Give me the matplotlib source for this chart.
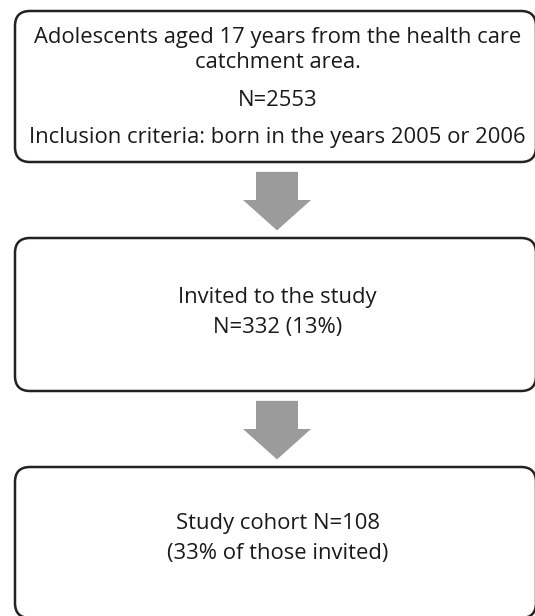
import matplotlib

matplotlib.use("Agg")
import matplotlib.pyplot as plt
from matplotlib.patches import FancyBboxPatch, Polygon

# box contents, top to bottom
BOX_TEXTS = [
    ["Adolescents aged 17 years from the health care", "catchment area.",
     "N=2553", "Inclusion criteria: born in the years 2005 or 2006"],
    ["Invited to the study", "N=332 (13%)"],
    ["Study cohort N=108", "(33% of those invited)"],
]
# line y-positions (pixels from top) for each box's text
LINE_Y = [
    [37, 62, 101, 137],
    [297, 328],
    [523, 553],
]
# box extents (top, bottom) in pixels
BOX_Y = [(11, 162), (238, 391), (467, 618)]
BOX_X = (15, 536)
W, H = 535, 616

fig = plt.figure(figsize=(W / 100, H / 100), dpi=100)
ax = fig.add_axes([0, 0, 1, 1])
ax.set_xlim(0, W)
ax.set_ylim(H, 0)
ax.axis("off")

r = 15
for (top, bot), lines, ys in zip(BOX_Y, BOX_TEXTS, LINE_Y):
    box = FancyBboxPatch((BOX_X[0] + r, top + r), BOX_X[1] - BOX_X[0] - 2 * r,
                         bot - top - 2 * r, boxstyle=f"round,pad={r}",
                         fc="white", ec="#222222", lw=1.8, clip_on=True)
    ax.add_patch(box)
    for txt, y in zip(lines, ys):
        ax.text(277.5, y, txt, ha="center", va="center", fontsize=15.8,
                family="Open Sans", color="#1a1a1a")

# gray block arrows between boxes
cx = 277
for (_, b1), (t2, _) in zip(BOX_Y[:-1], BOX_Y[1:]):
    gap = t2 - b1
    top = b1 + 0.13 * gap
    neck = b1 + 0.5 * gap
    tip = b1 + 0.9 * gap
    pts = [(cx - 21, top), (cx + 21, top), (cx + 21, neck), (cx + 34, neck),
           (cx, tip), (cx - 34, neck), (cx - 21, neck)]
    ax.add_patch(Polygon(pts, closed=True, fc="#9b9b9b", ec="none"))

fig.savefig("out.png", dpi=100)
